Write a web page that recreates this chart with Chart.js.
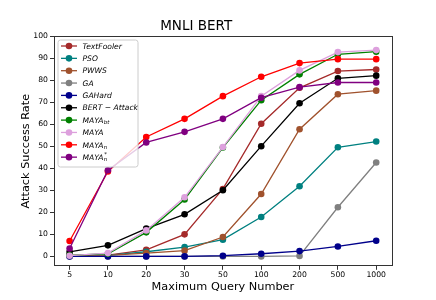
<!DOCTYPE html>
<html><head><meta charset="utf-8">
<script src="https://cdn.jsdelivr.net/npm/chart.js@4"></script>
<style>html,body{margin:0;padding:0;background:#fff}#wrap{width:436px;height:300px;position:relative}</style>
</head><body><div id="wrap"><canvas id="c" width="436" height="300"></canvas></div>
<script>
const queryLabels = ['5','10','20','30','50','100','200','500','1000'];
const yTickValues = [0,10,20,30,40,50,60,70,80,90,100];

const textFooler = [0.5, 0.6, 3.0, 10.0, 30.6, 60.2, 76.5, 84.1, 84.8];
const pso        = [0.3, 0.5, 2.1, 4.2, 7.6, 17.9, 31.8, 49.5, 52.1];
const pwws       = [0.3, 0.5, 1.5, 2.6, 8.8, 28.3, 57.7, 73.6, 75.2];
const ga         = [0, 0, 0, 0, 0, 0, 0.2, 22.3, 42.6];
const gaHard     = [0, 0, 0, 0, 0.3, 1.2, 2.4, 4.5, 7.1];
const bertAttack = [2.0, 5.0, 12.6, 19.1, 30.0, 50.0, 69.5, 80.8, 82.0];
const mayaBt     = [0.5, 1.2, 10.9, 25.8, 49.4, 70.9, 82.6, 91.7, 92.9];
const maya       = [0.3, 1.5, 11.8, 26.8, 49.6, 72.7, 84.4, 92.7, 93.6];
const mayaN      = [7.0, 38.5, 54.2, 62.4, 72.7, 81.5, 87.7, 89.5, 89.5];
const mayaNStar  = [3.6, 39.1, 51.7, 56.5, 62.4, 72.0, 76.8, 78.9, 78.9];

const seriesNames = ['TextFooler','PSO','PWWS','GA','GAHard','BERT-Attack','MAYA_bt','MAYA','MAYA_n','MAYA_n^*'];
const legendParts = [
  {base:'TextFooler'},{base:'PSO'},{base:'PWWS'},{base:'GA'},{base:'GAHard'},
  {base:'BERT \u2212 Attack'},{base:'MAYA',sub:'bt'},{base:'MAYA'},{base:'MAYA',sub:'n'},{base:'MAYA',sub:'n',sup:'*'}
];
const seriesValues = [textFooler,pso,pwws,ga,gaHard,bertAttack,mayaBt,maya,mayaN,mayaNStar];
const seriesColors = ['#a52a2a','#008080','#a0522d','#808080','#00008b','#000000','#008000','#dda0dd','#ff0000','#800080'];

const N = seriesValues.length;
const datasets = seriesValues.map((vals,i)=>({
  label: seriesNames[i],
  data: vals.map((v,j)=>({x:j,y:v})),
  borderColor: seriesColors[i],
  backgroundColor: seriesColors[i],
  pointBackgroundColor: seriesColors[i],
  pointBorderColor: seriesColors[i],
  pointBorderWidth: 0,
  pointRadius: 3.3,
  borderWidth: 1.3,
  tension: 0,
  order: N - i
}));

const FONT = "'DejaVu Sans', sans-serif";

const framePlugin = {
  id:'frame',
  afterDraw(chart){
    const {ctx, chartArea:a} = chart;
    ctx.save();
    ctx.strokeStyle = '#333';
    ctx.lineWidth = 1;
    ctx.strokeRect(Math.round(a.left)+0.5, Math.round(a.top)+0.5, Math.round(a.right-a.left)-1, Math.round(a.bottom-a.top)-1);
    // legend
    const lx=58, ly=40, lw=80, lh=127, r=2.5;
    ctx.beginPath();
    ctx.moveTo(lx+r,ly); ctx.lineTo(lx+lw-r,ly); ctx.quadraticCurveTo(lx+lw,ly,lx+lw,ly+r);
    ctx.lineTo(lx+lw,ly+lh-r); ctx.quadraticCurveTo(lx+lw,ly+lh,lx+lw-r,ly+lh);
    ctx.lineTo(lx+r,ly+lh); ctx.quadraticCurveTo(lx,ly+lh,lx,ly+lh-r);
    ctx.lineTo(lx,ly+r); ctx.quadraticCurveTo(lx,ly,lx+r,ly); ctx.closePath();
    ctx.fillStyle='rgba(255,255,255,0.8)'; ctx.fill();
    ctx.strokeStyle='#cccccc'; ctx.lineWidth=1; ctx.stroke();
    const fs = 7.6;
    for (let i=0;i<N;i++){
      const y = 46 + i*12.35;
      ctx.strokeStyle = seriesColors[i]; ctx.lineWidth=1.3;
      ctx.beginPath(); ctx.moveTo(61,y); ctx.lineTo(77,y); ctx.stroke();
      ctx.fillStyle = seriesColors[i];
      ctx.beginPath(); ctx.arc(69,y,3.3,0,Math.PI*2); ctx.fill();
      const p = legendParts[i];
      ctx.fillStyle='#000'; ctx.textBaseline='alphabetic'; ctx.textAlign='left';
      ctx.font = 'italic '+fs+'px '+FONT;
      const base = y + fs*0.36;
      ctx.fillText(p.base, 82.5, base);
      let x = 82.5 + ctx.measureText(p.base).width;
      ctx.font = 'italic '+(fs*0.7)+'px '+FONT;
      if (p.sub) ctx.fillText(p.sub, x+0.3, base+1.6);
      if (p.sup) ctx.fillText(p.sup, x+0.8, base-4.2);
    }
    ctx.restore();
  }
};

new Chart(document.getElementById('c'), {
  type:'line',
  data:{datasets},
  options:{
    responsive:false,
    devicePixelRatio:1,
    animation:false,
    layout:{padding:{left:0,right:43.7,top:0,bottom:0}},
    plugins:{
      legend:{display:false},
      tooltip:{enabled:false},
      title:{display:true,text:'MNLI BERT',color:'#000',font:{family:FONT,size:13.5,weight:'normal'},padding:{top:17.9,bottom:1.9}}
    },
    scales:{
      x:{
        type:'linear', min:-0.42, max:8.42,
        afterBuildTicks(s){ s.ticks = queryLabels.map((_,i)=>({value:i})); },
        afterFit(s){ s.height = 33.7; },
        ticks:{autoSkip:false,maxRotation:0,minRotation:0,padding:1,color:'#000',font:{family:FONT,size:7.7},
          callback:(v)=>queryLabels[v]},
        grid:{drawOnChartArea:false,drawTicks:true,tickLength:3.5,tickColor:'#333',color:'#333'},
        border:{display:false},
        title:{display:true,text:'Maximum Query Number',color:'#000',font:{family:FONT,size:11.3},padding:{top:0,bottom:5.7}}
      },
      y:{
        type:'linear', min:-4.5, max:100,
        afterBuildTicks(s){ s.ticks = yTickValues.map(v=>({value:v})); },
        afterFit(s){ s.width = 53.5; },
        ticks:{padding:2,color:'#000',font:{family:FONT,size:7.7}},
        grid:{drawOnChartArea:false,drawTicks:true,tickLength:3.5,tickColor:'#333',color:'#333'},
        border:{display:false},
        title:{display:true,text:'Attack Success Rate',color:'#000',font:{family:FONT,size:11.3},padding:{top:19,bottom:0}}
      }
    }
  },
  plugins:[framePlugin]
});
</script></body></html>
